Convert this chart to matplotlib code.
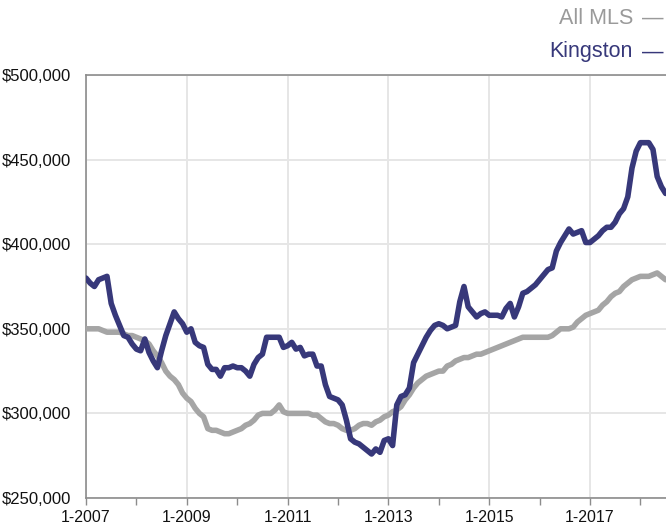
import matplotlib
matplotlib.use("Agg")
import matplotlib.pyplot as plt
import numpy as np

plt.rcParams['font.family'] = ['Liberation Sans', 'DejaVu Sans']

# Monthly average price, January 2007 onward
kingston = [
    380, 377, 375, 379, 380, 381, 365, 358, 352, 346,
    345, 341, 338, 337, 344, 336, 331, 327, 337, 346,
    353, 360, 356, 353, 348, 350, 342, 340, 339, 329,
    326, 326, 322, 327, 327, 328, 327, 327, 325, 322,
    329, 333, 335, 345, 345, 345, 345, 339, 340, 342,
    338, 339, 334, 335, 335, 328, 328, 317, 310, 309,
    308, 305, 296, 285, 283, 282, 280, 278, 276, 279,
    277, 284, 285, 281, 305, 310, 311, 315, 330, 335,
    340, 345, 349, 352, 353, 352, 350, 351, 352, 366,
    375, 363, 360, 357, 359, 360, 358, 358, 358, 357,
    362, 365, 357, 363, 371, 372, 374, 376, 379, 382,
    385, 386, 396, 401, 405, 409, 406, 407, 408, 401,
    401, 403, 405, 408, 410, 410, 413, 418, 421, 428,
    445, 455, 460, 460, 460, 456, 440, 434, 430,
]
all_mls = [
    350, 350, 350, 350, 349, 348, 348, 348, 348, 347,
    346, 346, 345, 344, 343, 341, 337, 334, 330, 325,
    322, 320, 317, 312, 309, 307, 303, 300, 298, 291,
    290, 290, 289, 288, 288, 289, 290, 291, 293, 294,
    296, 299, 300, 300, 300, 302, 305, 301, 300, 300,
    300, 300, 300, 300, 299, 299, 297, 295, 294, 294,
    293, 291, 290, 290, 291, 293, 294, 294, 293, 295,
    296, 298, 299, 301, 302, 304, 308, 311, 315, 318,
    320, 322, 323, 324, 325, 325, 328, 329, 331, 332,
    333, 333, 334, 335, 335, 336, 337, 338, 339, 340,
    341, 342, 343, 344, 345, 345, 345, 345, 345, 345,
    345, 346, 348, 350, 350, 350, 351, 354, 356, 358,
    359, 360, 361, 364, 366, 369, 371, 372, 375, 377,
    379, 380, 381, 381, 381, 382, 383, 381, 379,
]
kingston = np.array(kingston) * 1000
all_mls = np.array(all_mls) * 1000
months = np.arange(len(kingston))

x_tick_labels = ["1-2007", "1-2009", "1-2011", "1-2013", "1-2015", "1-2017"]
y_ticks = [250000, 300000, 350000, 400000, 450000, 500000]
series_names = ["All MLS", "Kingston"]

NAVY = "#37387a"
GREY = "#a5a5a5"
LEGEND_GREY = "#9a9a9a"

fig = plt.figure(figsize=(6.66, 5.27), dpi=100)
ax = fig.add_axes([86 / 666, 1 - 498 / 527, 1 - 86 / 666, (498 - 75) / 527])

ax.plot(months, all_mls, color=GREY, lw=4.0, solid_joinstyle='round',
        solid_capstyle='round', zorder=3)
ax.plot(months, kingston, color=NAVY, lw=4.0, solid_joinstyle='round',
        solid_capstyle='round', zorder=4)

ax.set_xlim(0, 138.1)
ax.set_ylim(250000, 500000)

ax.set_xticks(np.arange(0, 24 * len(x_tick_labels), 24))
ax.set_xticklabels(x_tick_labels)
ax.set_xticks(np.arange(0, 139, 12), minor=True)
ax.set_yticks(y_ticks)
ax.set_yticklabels([f"${v:,.0f}" for v in y_ticks])

ax.grid(True, which='major', color="#e6e6e6", lw=1.4, zorder=0)
ax.tick_params(axis='x', which='both', direction='out', length=5, width=1,
               color="#8c8c8c", labelsize=11.4, pad=4, labelcolor="#111111")
ax.tick_params(axis='y', length=0, labelsize=12, pad=11, labelcolor="#111111")

for side in ('left', 'top', 'bottom'):
    ax.spines[side].set_color("#8c8c8c")
    ax.spines[side].set_linewidth(1.2)
ax.spines['right'].set_visible(False)

# Legend entries in the top-right corner: name followed by a short dash
for name, colour, ypx in [(series_names[0], LEGEND_GREY, 18),
                          (series_names[1], NAVY, 52)]:
    fig.text(633 / 666, 1 - ypx / 527, name, color=colour,
             fontsize=15.5, ha='right', va='center')
    fig.text(664 / 666, 1 - ypx / 527, "\u2014", color=colour,
             fontsize=15.5, ha='right', va='center')

fig.savefig("out.png", dpi=100)
